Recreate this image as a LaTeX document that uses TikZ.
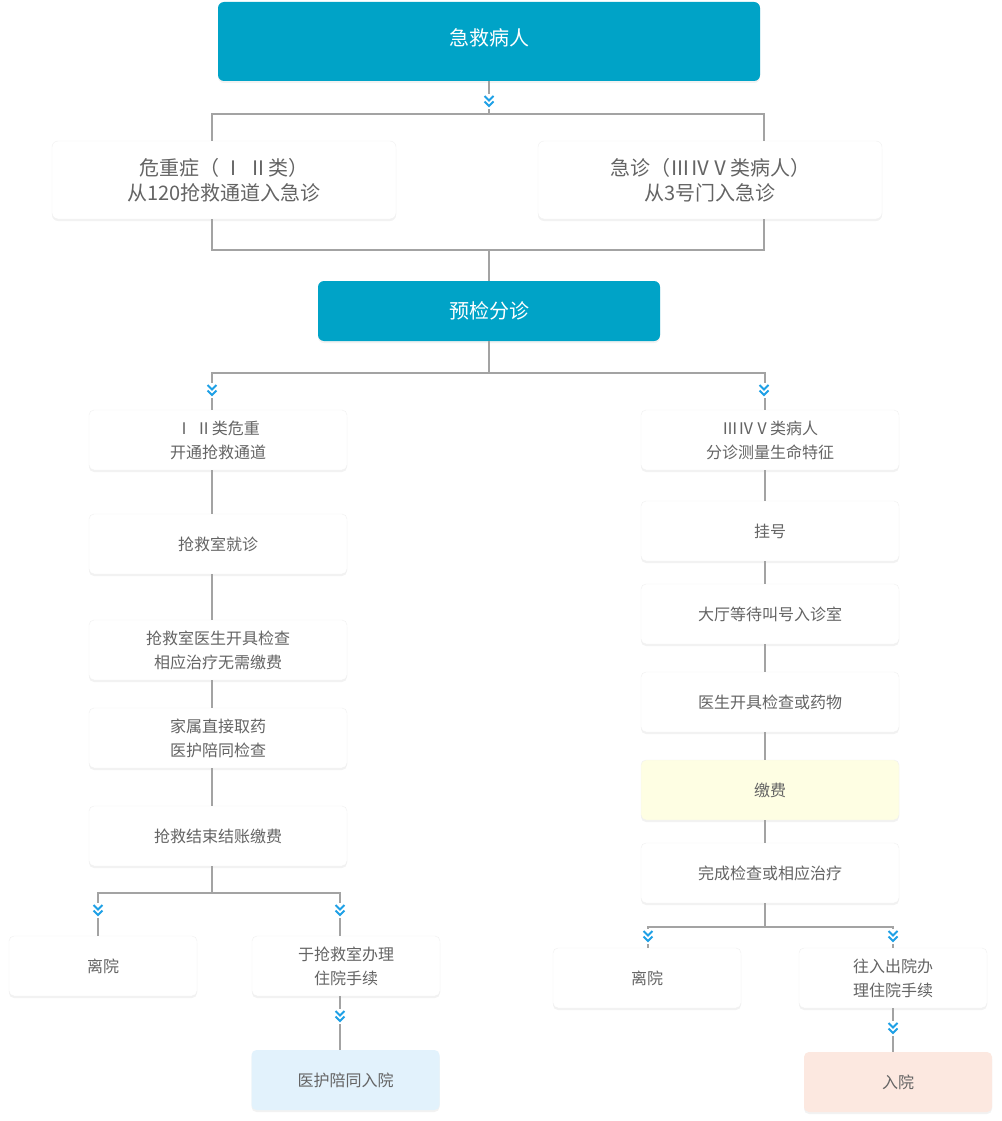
\documentclass[tikz,border=0pt]{standalone}
\usepackage{fontspec}
\newfontfamily\cjk{Noto Sans CJK SC}
\usetikzlibrary{shadows}
\definecolor{hdcol}{HTML}{00A3C7}
\definecolor{lncol}{HTML}{A3A3A3}
\definecolor{chcol}{HTML}{1EA0E6}
\definecolor{txtcol}{HTML}{646464}
\definecolor{bluebg}{HTML}{E2F2FC}
\definecolor{yelbg}{HTML}{FEFEE3}
\definecolor{pinkbg}{HTML}{FCE8E0}
\tikzset{
	ln/.style={draw=lncol, line width=1.6pt},
	shd/.style={drop shadow={opacity=0.10, shadow xshift=0pt, shadow yshift=-2pt}},
	hd/.style={fill=hdcol, text=white, rounded corners=6pt, shd, font=\cjk\fontsize{20}{25}\selectfont},
	bigbox/.style={fill=white, draw=black!6, rounded corners=6pt, shd, text=txtcol, align=center, font=\cjk\fontsize{20}{25}\selectfont},
	box/.style={fill=white, draw=black!6, rounded corners=5pt, shd, text=txtcol, align=center, minimum width=258pt, minimum height=60pt, font=\cjk\fontsize{16}{24}\selectfont},
	sbox/.style={box, minimum width=188pt},
	raise/.style={execute at begin node={\rule[-#1]{0pt}{0pt}}},
	chev/.pic={
		\fill[white] (-6,-9) rectangle (6,6);
		\draw[chcol, line width=2pt] (-4.5,-7) -- (0,-2.5) -- (4.5,-7) (-4.5,-1.5) -- (0,3) -- (4.5,-1.5);
	}
}
\begin{document}
\begin{tikzpicture}[x=1pt, y=-1pt]
		\useasboundingbox[fill=white] (0,0) rectangle (1001,1121);
		% top part
		\node[hd, raise=9pt, minimum width=542pt, minimum height=79pt] (top) at (489,41.5) {急救病人};
		\node[bigbox, minimum width=344pt, minimum height=78pt] (wz) at (224,180) {危重症（ Ⅰ Ⅱ类）\\从120抢救通道入急诊};
		\node[bigbox, minimum width=344pt, minimum height=78pt] (jz) at (710,180) {急诊（ⅢⅣⅤ类病人）\\从3号门入急诊};
		\node[hd, minimum width=342pt, minimum height=60pt] (yj) at (489,311) {预检分诊};
		\coordinate (s1) at (489,114);
		\coordinate (s2) at (489,250);
		\coordinate (s3) at (489,373);
		\draw[ln] (top) -- (s1);
		\draw[ln] ([xshift=-12pt]wz.north) |- (s1) -| ([xshift=54pt]jz.north);
		\draw[ln] ([xshift=-12pt]wz.south) |- (s2) -| ([xshift=54pt]jz.south);
		\draw[ln] (s2) -- (yj);
		\pic at (489,103) {chev};
		% left column
		\node[box] (L1) at (218,440) {Ⅰ Ⅱ类危重\\开通抢救通道};
		\node[box] (L2) at (218,544) {抢救室就诊};
		\node[box] (L3) at (218,650) {抢救室医生开具检查\\相应治疗无需缴费};
		\node[box] (L4) at (218,738) {家属直接取药\\医护陪同检查};
		\node[box] (L5) at (218,836) {抢救结束结账缴费};
		\node[sbox] (ly) at (103,966) {离院};
		\node[sbox] (zy) at (346,966) {于抢救室办理\\住院手续};
		\node[sbox, fill=bluebg, draw=none] (hy) at (345.5,1080) {医护陪同入院};
		% right column
		\node[box] (R1) at (770,440) {ⅢⅣⅤ类病人\\分诊测量生命特征};
		\node[box] (R2) at (770,531) {挂号};
		\node[box] (R3) at (770,614) {大厅等待叫号入诊室};
		\node[box] (R4) at (770,702) {医生开具检查或药物};
		\node[box, fill=yelbg] (R5) at (770,790) {缴费};
		\node[box] (R6) at (770,873) {完成检查或相应治疗};
		\node[sbox] (ly2) at (647,978) {离院};
		\node[sbox] (cy) at (893,978) {往入出院办\\理住院手续};
		\node[sbox, fill=pinkbg, draw=none] (ry) at (898,1082) {入院};
		% connectors
		\draw[ln] (yj) -- (s3);
		\draw[ln] ([xshift=-6pt]L1.north) |- (s3) -| ([xshift=-5pt]R1.north);
		\foreach \a/\b in {L1/L2, L2/L3, L3/L4, L4/L5}
			\draw[ln] ([xshift=-6pt]\a.south) -- ([xshift=-6pt]\b.north);
		\foreach \a/\b in {R1/R2, R2/R3, R3/R4, R4/R5, R5/R6}
			\draw[ln] ([xshift=-5pt]\a.south) -- ([xshift=-5pt]\b.north);
		\coordinate (s4) at (212,893);
		\coordinate (s5) at (765,927);
		\draw[ln] ([xshift=-6pt]L5.south) -- (s4);
		\draw[ln] ([xshift=-5pt]ly.north) |- (s4) -| ([xshift=-6pt]zy.north);
		\draw[ln] ([xshift=-6pt]zy.south) -- ([xshift=-5.5pt]hy.north);
		\draw[ln] ([xshift=-5pt]R6.south) -- (s5);
		\draw[ln] ([xshift=1pt]ly2.north) |- (s5) -| (cy.north);
		\draw[ln] (cy.south) -- ([xshift=-5pt]ry.north);
		% chevrons
		\pic at (212,392) {chev};
		\pic at (764,392) {chev};
		\pic at (98,912) {chev};
		\pic at (340,912) {chev};
		\pic at (340,1018) {chev};
		\pic at (648,938) {chev};
		\pic at (893,938) {chev};
		\pic at (893,1030) {chev};
	\end{tikzpicture}
\end{document}
